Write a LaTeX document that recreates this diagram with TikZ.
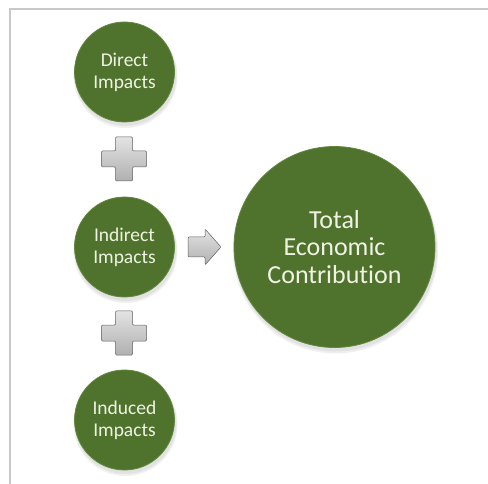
\documentclass[tikz,border=0pt]{standalone}
\usepackage{fontspec}
\setmainfont{Carlito}[Ligatures=NoCommon]
\definecolor{bubblegreen}{RGB}{79,114,45}
\definecolor{bubbleedge}{RGB}{98,136,62}
\definecolor{bubbletext}{RGB}{240,243,228}
\definecolor{framegray}{RGB}{200,200,200}
\begin{document}
\begin{tikzpicture}[x=1pt,y=-1pt,
  bubble/.style={circle, fill=bubblegreen, draw=bubbleedge, line width=0.8pt,
    text=bubbletext, align=center, inner sep=0pt, minimum size=100pt,
    font=\fontsize{19.5}{22}\selectfont},
  bigbubble/.style={bubble, minimum size=201pt, font=\fontsize{26}{27.5}\selectfont},
  grayshape/.style={top color=gray!22, bottom color=gray!62, draw=gray!75!black,
    line width=0.5pt, rounded corners=1pt},
  softshadow/.style={fill=black, opacity=0.06},
  plussign/.pic={\draw[grayshape] (-8.5,-22)--(8.5,-22)--(8.5,-8)--(22.5,-8)--(22.5,8)
      --(8.5,8)--(8.5,22)--(-8.5,22)--(-8.5,8)--(-22.5,8)--(-22.5,-8)--(-8.5,-8)--cycle;}]
\useasboundingbox (0,0) rectangle (488,484);
\draw[framegray, line width=1.5pt] (10,484) -- (10,9) -- (488,9);
% shadows
\foreach \cx/\cy/\r in {124.5/72/50, 124.5/247/50, 124.5/420/50, 334.5/247/100.5}{
  \fill[softshadow] (\cx+1,\cy+4) circle (\r+2);
  \fill[softshadow] (\cx+1,\cy+3) circle (\r+1);
}
\node[bubble] (direct) at (124.5,72) {Direct\\Impacts};
\node[bubble] (indirect) at (124.5,247) {Indirect\\Impacts};
\node[bubble] (induced) at (124.5,420) {Induced\\Impacts};
\node[bigbubble] (total) at (334.5,247) {Total\\Economic\\Contribution};
\pic at (124,159) {plussign};
\pic at (124,333) {plussign};
\draw[grayshape] (188,237) -- (205,237) -- (205,229) -- (221,247) -- (205,265) -- (205,257) -- (188,257) -- cycle;
\end{tikzpicture}
\end{document}
